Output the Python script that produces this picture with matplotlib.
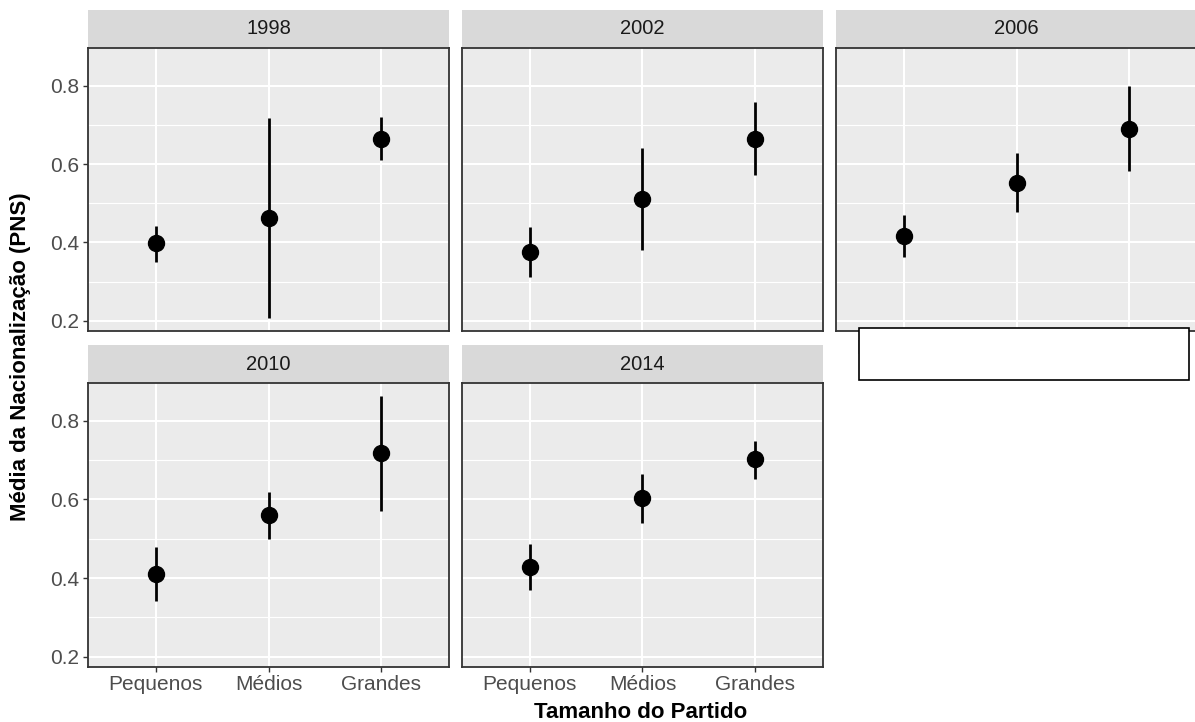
import numpy as np
import matplotlib
matplotlib.use("Agg")
import matplotlib.pyplot as plt
from matplotlib.patches import Rectangle

plt.rcParams['font.family'] = ['Liberation Sans', 'DejaVu Sans']

# Médias do PNS por tamanho de partido e eleição
anos = ['1998', '2002', '2006', '2010', '2014']
categorias = ['Pequenos', 'Médios', 'Grandes']
media = [[0.399, 0.462, 0.665],
         [0.376, 0.510, 0.665],
         [0.416, 0.552, 0.690],
         [0.410, 0.560, 0.717],
         [0.428, 0.603, 0.702]]
lim_inf = [[0.350, 0.207, 0.610],
           [0.312, 0.380, 0.572],
           [0.363, 0.477, 0.581],
           [0.343, 0.499, 0.570],
           [0.371, 0.539, 0.652]]
lim_sup = [[0.443, 0.717, 0.720],
           [0.439, 0.641, 0.757],
           [0.470, 0.627, 0.800],
           [0.478, 0.619, 0.863],
           [0.486, 0.664, 0.749]]
yticks = [0.2, 0.4, 0.6, 0.8]
yminor = [0.3, 0.5, 0.7]

W, H = 1195, 722
fig = plt.figure(figsize=(W / 100, H / 100), dpi=100)


def caixa(x0, y0, x1, y1):
    # eixos posicionados em pixels (origem no canto superior esquerdo)
    return fig.add_axes([x0 / W, 1 - y1 / H, (x1 - x0) / W, (y1 - y0) / H])


# escala comum a todos os painéis (expansão de 5%)
lo = np.min(lim_inf)
hi = np.max(lim_sup)
pad = (hi - lo) * 0.05
ylim = (lo - pad, hi + pad)

colunas = [(88, 449), (462, 823), (836, 1197)]
linhas = [(10, 48, 331), (345, 383, 667)]

for k, ano in enumerate(anos):
    lin, col = divmod(k, 3)
    x0, x1 = colunas[col]
    s0, p0, p1 = linhas[lin]

    # faixa do título do painel
    st = caixa(x0, s0, x1, p0)
    st.set_facecolor('#D9D9D9')
    st.set_xticks([])
    st.set_yticks([])
    for sp in st.spines.values():
        sp.set_visible(False)
    st.text(0.5, 0.5, ano, ha='center', va='center', fontsize=14.5,
            color='#1A1A1A', transform=st.transAxes)

    ax = caixa(x0, p0, x1, p1)
    ax.set_facecolor('#EBEBEB')
    x = np.arange(1, len(categorias) + 1)
    ax.set_xlim(0.4, len(categorias) + 0.6)
    ax.set_ylim(*ylim)

    for yv in yminor:
        ax.axhline(yv, color='white', lw=0.8, zorder=0.5)
    for yv in yticks:
        ax.axhline(yv, color='white', lw=1.5, zorder=0.6)
    for xv in x:
        ax.axvline(xv, color='white', lw=1.5, zorder=0.6)

    ax.vlines(x, lim_inf[k], lim_sup[k], color='black', lw=2.0, zorder=2)
    ax.plot(x, media[k], 'o', color='black', markersize=11.5, zorder=3)

    for sp in ax.spines.values():
        sp.set_color('#333333')
        sp.set_linewidth(1.3)

    ax.set_yticks(yticks)
    if col == 0:
        ax.set_yticklabels([f'{v:.1f}' for v in yticks])
    else:
        ax.set_yticklabels([])
        ax.tick_params(axis='y', length=0)
    ax.set_xticks(x)
    if lin == 1 or k == 2:
        ax.set_xticklabels(categorias)
    else:
        ax.set_xticklabels([])
        ax.tick_params(axis='x', length=0)
    ax.tick_params(axis='both', labelsize=15, labelcolor='#4D4D4D',
                   color='#333333', width=1.0)
    ax.tick_params(axis='y', pad=3)
    ax.tick_params(axis='x', pad=2)
    ax.set_axisbelow(True)

fig.text(641 / W, 1 - 713 / H, 'Tamanho do Partido', ha='center', va='center',
         fontsize=16, fontweight='bold')
fig.text(21 / W, 1 - 357 / H, 'Média da Nacionalização (PNS)', ha='center',
         va='center', rotation=90, fontsize=16, fontweight='bold')

# caixa branca por cima do eixo do painel 2006
fig.add_artist(Rectangle((859 / W, 1 - 380 / H), (1189 - 859) / W, (380 - 328) / H,
                         transform=fig.transFigure, facecolor='white',
                         edgecolor='black', lw=1.2, zorder=10))

fig.savefig('out.png', dpi=100)
